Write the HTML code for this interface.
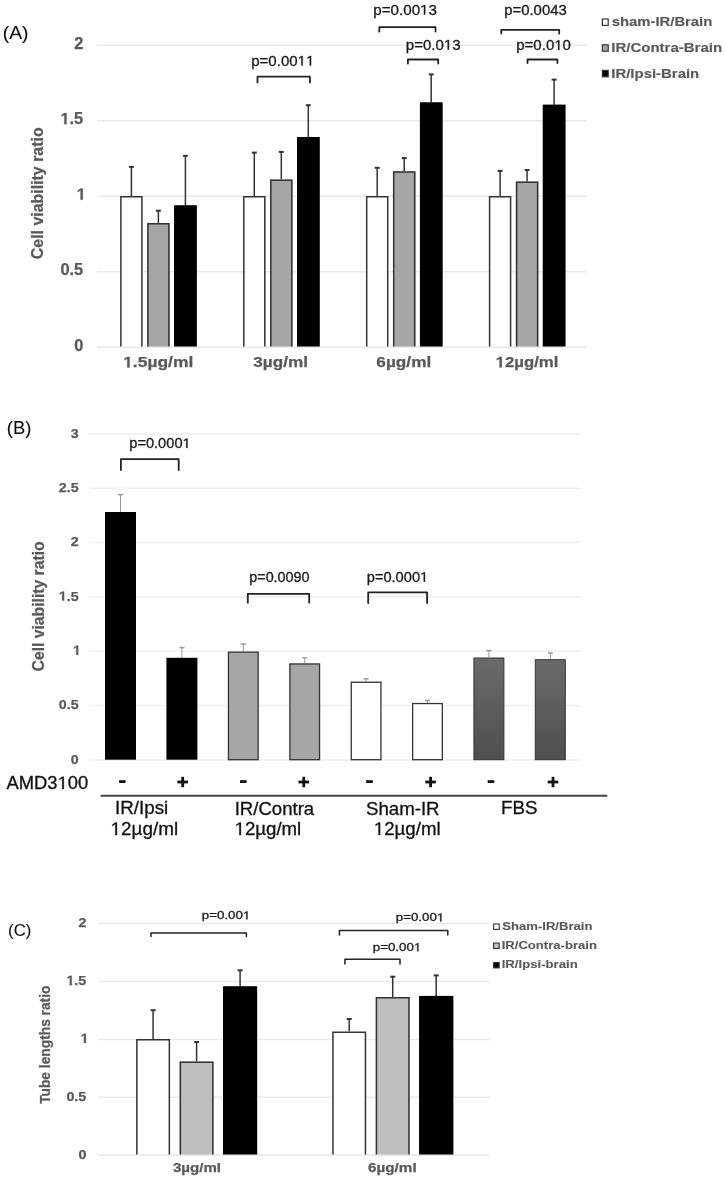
<!DOCTYPE html>
<html><head><meta charset="utf-8"><title>Figure</title>
<style>
html,body{margin:0;padding:0;background:#fff;}
body{width:726px;height:1181px;overflow:hidden;}
svg{display:block;font-family:"Liberation Sans", sans-serif;filter:blur(0.4px);}
</style></head>
<body>
<svg width="726" height="1181" viewBox="0 0 726 1181">
<rect width="726" height="1181" fill="#fff"/>
<text x="2.70" y="38.50" font-size="18.5" textLength="25.80" lengthAdjust="spacingAndGlyphs" fill="#111" stroke="#111" stroke-width="0.1">(A)</text>
<line x1="97" y1="45.2" x2="587" y2="45.2" stroke="#e9e9e9" stroke-width="1.5"/>
<line x1="97" y1="120.7" x2="587" y2="120.7" stroke="#e9e9e9" stroke-width="1.5"/>
<line x1="97" y1="196.2" x2="587" y2="196.2" stroke="#e9e9e9" stroke-width="1.5"/>
<line x1="97" y1="271.7" x2="587" y2="271.7" stroke="#e9e9e9" stroke-width="1.5"/>
<line x1="97" y1="347.2" x2="587" y2="347.2" stroke="#e9e9e9" stroke-width="1.5"/>
<text x="74.34" y="48.80" font-size="16.4" textLength="9.12" lengthAdjust="spacingAndGlyphs" fill="#595959" font-weight="bold" stroke="#595959" stroke-width="0.25">2</text>
<text x="60.46" y="124.30" font-size="16.4" textLength="22.80" lengthAdjust="spacingAndGlyphs" fill="#595959" font-weight="bold" stroke="#595959" stroke-width="0.25"> .5</text>
<path transform="translate(60.46 124.30) scale(0.00801 -0.00801)" d="M478 0V1170L140 959V1180L493 1409H759V0Z" fill="#595959" stroke="#595959" stroke-width="31.2"/>
<text x="76.72" y="199.80" font-size="16.4" textLength="9.12" lengthAdjust="spacingAndGlyphs" fill="#595959" font-weight="bold" stroke="#595959" stroke-width="0.25"> </text>
<path transform="translate(76.72 199.80) scale(0.00801 -0.00801)" d="M478 0V1170L140 959V1180L493 1409H759V0Z" fill="#595959" stroke="#595959" stroke-width="31.2"/>
<text x="60.46" y="275.30" font-size="16.4" textLength="22.80" lengthAdjust="spacingAndGlyphs" fill="#595959" font-weight="bold" stroke="#595959" stroke-width="0.25">0.5</text>
<text x="74.35" y="350.80" font-size="16.4" textLength="9.12" lengthAdjust="spacingAndGlyphs" fill="#595959" font-weight="bold" stroke="#595959" stroke-width="0.25">0</text>
<text transform="rotate(-90)" x="-259.15" y="43.00" font-size="16.4" textLength="131.77" lengthAdjust="spacingAndGlyphs" fill="#595959" font-weight="bold" stroke="#595959" stroke-width="0.25">Cell viability ratio</text>
<line x1="131.4" y1="196" x2="131.4" y2="166.9" stroke="#333" stroke-width="1.5"/>
<line x1="128.9" y1="166.9" x2="133.9" y2="166.9" stroke="#333" stroke-width="2.0"/>
<rect x="120.15" y="196.00" width="22.50" height="151.00" fill="#ffffff"/>
<path d="M120.90 347 V196.75 H141.90 V347" fill="none" stroke="#333" stroke-width="1.5"/>
<line x1="158.4" y1="222.9" x2="158.4" y2="210.7" stroke="#333" stroke-width="1.5"/>
<line x1="155.9" y1="210.7" x2="160.9" y2="210.7" stroke="#333" stroke-width="2.0"/>
<rect x="147.15" y="222.90" width="22.50" height="124.10" fill="#a6a6a6"/>
<path d="M147.90 347 V223.65 H168.90 V347" fill="none" stroke="#333" stroke-width="1.5"/>
<line x1="185.4" y1="205.4" x2="185.4" y2="155.8" stroke="#333" stroke-width="1.5"/>
<line x1="182.9" y1="155.8" x2="187.9" y2="155.8" stroke="#333" stroke-width="2.0"/>
<rect x="174.15" y="205.40" width="22.50" height="141.60" fill="#000000"/>
<path d="M174.90 347 V206.15 H195.90 V347" fill="none" stroke="#000" stroke-width="1.5"/>
<line x1="254.3" y1="196" x2="254.3" y2="152.6" stroke="#333" stroke-width="1.5"/>
<line x1="251.8" y1="152.6" x2="256.8" y2="152.6" stroke="#333" stroke-width="2.0"/>
<rect x="243.05" y="196.00" width="22.50" height="151.00" fill="#ffffff"/>
<path d="M243.80 347 V196.75 H264.80 V347" fill="none" stroke="#333" stroke-width="1.5"/>
<line x1="281.3" y1="179.5" x2="281.3" y2="151.9" stroke="#333" stroke-width="1.5"/>
<line x1="278.8" y1="151.9" x2="283.8" y2="151.9" stroke="#333" stroke-width="2.0"/>
<rect x="270.05" y="179.50" width="22.50" height="167.50" fill="#a6a6a6"/>
<path d="M270.80 347 V180.25 H291.80 V347" fill="none" stroke="#333" stroke-width="1.5"/>
<line x1="308.3" y1="137.1" x2="308.3" y2="105.2" stroke="#333" stroke-width="1.5"/>
<line x1="305.8" y1="105.2" x2="310.8" y2="105.2" stroke="#333" stroke-width="2.0"/>
<rect x="297.05" y="137.10" width="22.50" height="209.90" fill="#000000"/>
<path d="M297.80 347 V137.85 H318.80 V347" fill="none" stroke="#000" stroke-width="1.5"/>
<line x1="377.2" y1="196" x2="377.2" y2="167.8" stroke="#333" stroke-width="1.5"/>
<line x1="374.7" y1="167.8" x2="379.7" y2="167.8" stroke="#333" stroke-width="2.0"/>
<rect x="365.95" y="196.00" width="22.50" height="151.00" fill="#ffffff"/>
<path d="M366.70 347 V196.75 H387.70 V347" fill="none" stroke="#333" stroke-width="1.5"/>
<line x1="404.2" y1="171.3" x2="404.2" y2="158.1" stroke="#333" stroke-width="1.5"/>
<line x1="401.7" y1="158.1" x2="406.7" y2="158.1" stroke="#333" stroke-width="2.0"/>
<rect x="392.95" y="171.30" width="22.50" height="175.70" fill="#a6a6a6"/>
<path d="M393.70 347 V172.05 H414.70 V347" fill="none" stroke="#333" stroke-width="1.5"/>
<line x1="431.2" y1="102.5" x2="431.2" y2="74.4" stroke="#333" stroke-width="1.5"/>
<line x1="428.7" y1="74.4" x2="433.7" y2="74.4" stroke="#333" stroke-width="2.0"/>
<rect x="419.95" y="102.50" width="22.50" height="244.50" fill="#000000"/>
<path d="M420.70 347 V103.25 H441.70 V347" fill="none" stroke="#000" stroke-width="1.5"/>
<line x1="500.1" y1="196" x2="500.1" y2="170.9" stroke="#333" stroke-width="1.5"/>
<line x1="497.6" y1="170.9" x2="502.6" y2="170.9" stroke="#333" stroke-width="2.0"/>
<rect x="488.85" y="196.00" width="22.50" height="151.00" fill="#ffffff"/>
<path d="M489.60 347 V196.75 H510.60 V347" fill="none" stroke="#333" stroke-width="1.5"/>
<line x1="527.1" y1="181.5" x2="527.1" y2="170" stroke="#333" stroke-width="1.5"/>
<line x1="524.6" y1="170" x2="529.6" y2="170" stroke="#333" stroke-width="2.0"/>
<rect x="515.85" y="181.50" width="22.50" height="165.50" fill="#a6a6a6"/>
<path d="M516.60 347 V182.25 H537.60 V347" fill="none" stroke="#333" stroke-width="1.5"/>
<line x1="554.1" y1="104.8" x2="554.1" y2="79.6" stroke="#333" stroke-width="1.5"/>
<line x1="551.6" y1="79.6" x2="556.6" y2="79.6" stroke="#333" stroke-width="2.0"/>
<rect x="542.85" y="104.80" width="22.50" height="242.20" fill="#000000"/>
<path d="M543.60 347 V105.55 H564.60 V347" fill="none" stroke="#000" stroke-width="1.5"/>
<line x1="97" y1="347.2" x2="587" y2="347.2" stroke="#e9e9e9" stroke-width="1.5"/>
<path d="M257.5 82.4 V76.7 H309.9 V82.4" fill="none" stroke="#222" stroke-width="1.8" stroke-linejoin="round" stroke-linecap="round"/>
<path d="M379.3 31.6 V27.2 H435.5 V31.6" fill="none" stroke="#222" stroke-width="1.8" stroke-linejoin="round" stroke-linecap="round"/>
<path d="M407.9 63.6 V59.5 H438.2 V63.6" fill="none" stroke="#222" stroke-width="1.8" stroke-linejoin="round" stroke-linecap="round"/>
<path d="M501.3 33.5 V29.8 H559.2 V33.5" fill="none" stroke="#222" stroke-width="1.8" stroke-linejoin="round" stroke-linecap="round"/>
<path d="M527.5 63 V59.5 H557.4 V63" fill="none" stroke="#222" stroke-width="1.8" stroke-linejoin="round" stroke-linecap="round"/>
<text x="251.23" y="65.60" font-size="14.0" textLength="63.12" lengthAdjust="spacingAndGlyphs" fill="#1a1a1a" stroke="#1a1a1a" stroke-width="0.3">p=0.00  </text>
<path transform="translate(297.63 65.60) scale(0.00734 -0.00684)" d="M515 0V1237L197 1010V1180L530 1409H696V0Z" fill="#1a1a1a" stroke="#1a1a1a" stroke-width="43.9"/>
<path transform="translate(305.99 65.60) scale(0.00734 -0.00684)" d="M515 0V1237L197 1010V1180L530 1409H696V0Z" fill="#1a1a1a" stroke="#1a1a1a" stroke-width="43.9"/>
<text x="373.32" y="14.60" font-size="14.0" textLength="63.64" lengthAdjust="spacingAndGlyphs" fill="#1a1a1a" stroke="#1a1a1a" stroke-width="0.3">p=0.00 3</text>
<path transform="translate(420.11 14.60) scale(0.00740 -0.00684)" d="M515 0V1237L197 1010V1180L530 1409H696V0Z" fill="#1a1a1a" stroke="#1a1a1a" stroke-width="43.9"/>
<text x="405.83" y="49.60" font-size="14.0" textLength="54.73" lengthAdjust="spacingAndGlyphs" fill="#1a1a1a" stroke="#1a1a1a" stroke-width="0.3">p=0.0 3</text>
<path transform="translate(443.85 49.60) scale(0.00734 -0.00684)" d="M515 0V1237L197 1010V1180L530 1409H696V0Z" fill="#1a1a1a" stroke="#1a1a1a" stroke-width="43.9"/>
<text x="504.24" y="14.60" font-size="14.0" textLength="62.51" lengthAdjust="spacingAndGlyphs" fill="#1a1a1a" stroke="#1a1a1a" stroke-width="0.3">p=0.0043</text>
<text x="516.23" y="50.00" font-size="14.0" textLength="54.76" lengthAdjust="spacingAndGlyphs" fill="#1a1a1a" stroke="#1a1a1a" stroke-width="0.3">p=0.0 0</text>
<path transform="translate(554.27 50.00) scale(0.00734 -0.00684)" d="M515 0V1237L197 1010V1180L530 1409H696V0Z" fill="#1a1a1a" stroke="#1a1a1a" stroke-width="43.9"/>
<rect x="602.4" y="19.0" width="5.8" height="6.4" fill="#fff" stroke="#333" stroke-width="1.2"/>
<text x="611.78" y="26.30" font-size="13.2" textLength="100.54" lengthAdjust="spacingAndGlyphs" fill="#595959" font-weight="bold" stroke="#595959" stroke-width="0.15">sham-IR/Brain</text>
<rect x="602.4" y="44.8" width="5.8" height="6.4" fill="#a6a6a6" stroke="#333" stroke-width="1.2"/>
<text x="611.30" y="52.10" font-size="13.2" textLength="110.83" lengthAdjust="spacingAndGlyphs" fill="#595959" font-weight="bold" stroke="#595959" stroke-width="0.15">IR/Contra-Brain</text>
<rect x="602.4" y="70.4" width="5.8" height="6.4" fill="#000" stroke="#333" stroke-width="1.2"/>
<text x="611.30" y="77.70" font-size="13.2" textLength="87.92" lengthAdjust="spacingAndGlyphs" fill="#595959" font-weight="bold" stroke="#595959" stroke-width="0.15">IR/Ipsi-Brain</text>
<text x="123.16" y="367.40" font-size="15.2" textLength="70.13" lengthAdjust="spacingAndGlyphs" fill="#595959" font-weight="bold" stroke="#595959" stroke-width="0.25"> .5µg/ml</text>
<path transform="translate(123.16 367.40) scale(0.00851 -0.00742)" d="M478 0V1170L140 959V1180L493 1409H759V0Z" fill="#595959" stroke="#595959" stroke-width="33.7"/>
<text x="253.31" y="367.40" font-size="15.2" textLength="54.61" lengthAdjust="spacingAndGlyphs" fill="#595959" font-weight="bold" stroke="#595959" stroke-width="0.25">3µg/ml</text>
<text x="376.37" y="367.40" font-size="15.2" textLength="54.85" lengthAdjust="spacingAndGlyphs" fill="#595959" font-weight="bold" stroke="#595959" stroke-width="0.25">6µg/ml</text>
<text x="495.60" y="367.40" font-size="15.2" textLength="62.84" lengthAdjust="spacingAndGlyphs" fill="#595959" font-weight="bold" stroke="#595959" stroke-width="0.25"> 2µg/ml</text>
<path transform="translate(495.60 367.40) scale(0.00819 -0.00742)" d="M478 0V1170L140 959V1180L493 1409H759V0Z" fill="#595959" stroke="#595959" stroke-width="33.7"/>
<text x="6.86" y="434.00" font-size="17.5" textLength="24.59" lengthAdjust="spacingAndGlyphs" fill="#111" stroke="#111" stroke-width="0.1">(B)</text>
<line x1="89" y1="433.9" x2="581" y2="433.9" stroke="#efefef" stroke-width="1.5"/>
<line x1="89" y1="488.2" x2="581" y2="488.2" stroke="#efefef" stroke-width="1.5"/>
<line x1="89" y1="542.6" x2="581" y2="542.6" stroke="#efefef" stroke-width="1.5"/>
<line x1="89" y1="596.9000000000001" x2="581" y2="596.9000000000001" stroke="#efefef" stroke-width="1.5"/>
<line x1="89" y1="651.2" x2="581" y2="651.2" stroke="#efefef" stroke-width="1.5"/>
<line x1="89" y1="705.6" x2="581" y2="705.6" stroke="#efefef" stroke-width="1.5"/>
<line x1="89" y1="759.9000000000001" x2="581" y2="759.9000000000001" stroke="#efefef" stroke-width="1.5"/>
<text x="70.80" y="437.60" font-size="13.3" textLength="7.91" lengthAdjust="spacingAndGlyphs" fill="#595959" font-weight="bold" stroke="#595959" stroke-width="0.25">3</text>
<text x="58.81" y="491.90" font-size="13.3" textLength="19.78" lengthAdjust="spacingAndGlyphs" fill="#595959" font-weight="bold" stroke="#595959" stroke-width="0.25">2.5</text>
<text x="70.86" y="546.30" font-size="13.3" textLength="7.91" lengthAdjust="spacingAndGlyphs" fill="#595959" font-weight="bold" stroke="#595959" stroke-width="0.25">2</text>
<text x="58.81" y="600.60" font-size="13.3" textLength="19.78" lengthAdjust="spacingAndGlyphs" fill="#595959" font-weight="bold" stroke="#595959" stroke-width="0.25"> .5</text>
<path transform="translate(58.81 600.60) scale(0.00695 -0.00649)" d="M478 0V1170L140 959V1180L493 1409H759V0Z" fill="#595959" stroke="#595959" stroke-width="38.5"/>
<text x="72.93" y="654.90" font-size="13.3" textLength="7.91" lengthAdjust="spacingAndGlyphs" fill="#595959" font-weight="bold" stroke="#595959" stroke-width="0.25"> </text>
<path transform="translate(72.93 654.90) scale(0.00695 -0.00649)" d="M478 0V1170L140 959V1180L493 1409H759V0Z" fill="#595959" stroke="#595959" stroke-width="38.5"/>
<text x="58.81" y="709.30" font-size="13.3" textLength="19.78" lengthAdjust="spacingAndGlyphs" fill="#595959" font-weight="bold" stroke="#595959" stroke-width="0.25">0.5</text>
<text x="70.87" y="763.60" font-size="13.3" textLength="7.91" lengthAdjust="spacingAndGlyphs" fill="#595959" font-weight="bold" stroke="#595959" stroke-width="0.25">0</text>
<text transform="rotate(-90)" x="-671.44" y="43.60" font-size="16.2" textLength="130.06" lengthAdjust="spacingAndGlyphs" fill="#595959" font-weight="bold" stroke="#595959" stroke-width="0.25">Cell viability ratio</text>
<defs><linearGradient id="dg" x1="0" y1="0" x2="0" y2="1"><stop offset="0" stop-color="#6b6b6b"/><stop offset="1" stop-color="#4e4e4e"/></linearGradient></defs>
<line x1="120.5" y1="512" x2="120.5" y2="494.6" stroke="#999" stroke-width="1"/>
<line x1="118.0" y1="494.6" x2="123.0" y2="494.6" stroke="#999" stroke-width="1.5"/>
<rect x="105.00" y="512.00" width="31.00" height="247.70" fill="#000"/>
<line x1="181.9" y1="657.8" x2="181.9" y2="647.6" stroke="#999" stroke-width="1"/>
<line x1="179.4" y1="647.6" x2="184.4" y2="647.6" stroke="#999" stroke-width="1.5"/>
<rect x="166.40" y="657.80" width="31.00" height="101.90" fill="#000"/>
<line x1="243.3" y1="651.5" x2="243.3" y2="644" stroke="#999" stroke-width="1"/>
<line x1="240.8" y1="644" x2="245.8" y2="644" stroke="#999" stroke-width="1.5"/>
<rect x="228.45" y="652.15" width="29.70" height="107.55" fill="#a6a6a6" stroke="#333" stroke-width="1.3"/>
<line x1="304.7" y1="663.3" x2="304.7" y2="657.8" stroke="#999" stroke-width="1"/>
<line x1="302.2" y1="657.8" x2="307.2" y2="657.8" stroke="#999" stroke-width="1.5"/>
<rect x="289.85" y="663.95" width="29.70" height="95.75" fill="#a6a6a6" stroke="#333" stroke-width="1.3"/>
<line x1="366.1" y1="681.6" x2="366.1" y2="678.8" stroke="#999" stroke-width="1"/>
<line x1="363.6" y1="678.8" x2="368.6" y2="678.8" stroke="#999" stroke-width="1.5"/>
<rect x="351.25" y="682.25" width="29.70" height="77.45" fill="#fff" stroke="#333" stroke-width="1.3"/>
<line x1="427.5" y1="702.9" x2="427.5" y2="700.5" stroke="#999" stroke-width="1"/>
<line x1="425.0" y1="700.5" x2="430.0" y2="700.5" stroke="#999" stroke-width="1.5"/>
<rect x="412.65" y="703.55" width="29.70" height="56.15" fill="#fff" stroke="#333" stroke-width="1.3"/>
<line x1="488.9" y1="657.5" x2="488.9" y2="650.6" stroke="#999" stroke-width="1"/>
<line x1="486.4" y1="650.6" x2="491.4" y2="650.6" stroke="#999" stroke-width="1.5"/>
<rect x="473.90" y="658.00" width="30.00" height="101.70" fill="url(#dg)" stroke="#333" stroke-width="1.0"/>
<line x1="550.3" y1="659.2" x2="550.3" y2="653" stroke="#999" stroke-width="1"/>
<line x1="547.8" y1="653" x2="552.8" y2="653" stroke="#999" stroke-width="1.5"/>
<rect x="535.30" y="659.70" width="30.00" height="100.00" fill="url(#dg)" stroke="#333" stroke-width="1.0"/>
<path d="M120.9 470.1 V459.2 H178.7 V470.1" fill="none" stroke="#222" stroke-width="1.8" stroke-linejoin="round" stroke-linecap="round"/>
<path d="M247.8 602.7 V593.9 H309.2 V602.7" fill="none" stroke="#222" stroke-width="1.8" stroke-linejoin="round" stroke-linecap="round"/>
<path d="M368.2 603 V592.3 H427.1 V603" fill="none" stroke="#222" stroke-width="1.8" stroke-linejoin="round" stroke-linecap="round"/>
<text x="129.26" y="448.00" font-size="13.8" textLength="61.41" lengthAdjust="spacingAndGlyphs" fill="#1a1a1a" stroke="#1a1a1a" stroke-width="0.3">p=0.000 </text>
<path transform="translate(182.53 448.00) scale(0.00714 -0.00674)" d="M515 0V1237L197 1010V1180L530 1409H696V0Z" fill="#1a1a1a" stroke="#1a1a1a" stroke-width="44.5"/>
<text x="249.27" y="582.20" font-size="13.8" textLength="60.29" lengthAdjust="spacingAndGlyphs" fill="#1a1a1a" stroke="#1a1a1a" stroke-width="0.3">p=0.0090</text>
<text x="366.76" y="581.70" font-size="13.8" textLength="61.41" lengthAdjust="spacingAndGlyphs" fill="#1a1a1a" stroke="#1a1a1a" stroke-width="0.3">p=0.000 </text>
<path transform="translate(420.03 581.70) scale(0.00714 -0.00674)" d="M515 0V1237L197 1010V1180L530 1409H696V0Z" fill="#1a1a1a" stroke="#1a1a1a" stroke-width="44.5"/>
<text x="6.56" y="788.90" font-size="17.8" textLength="81.65" lengthAdjust="spacingAndGlyphs" fill="#111" stroke="#111" stroke-width="0.3">AMD3 00</text>
<path transform="translate(57.58 788.90) scale(0.00897 -0.00869)" d="M515 0V1237L197 1010V1180L530 1409H696V0Z" fill="#111" stroke="#111" stroke-width="34.5"/>
<rect x="119.0" y="780.2" width="6.6" height="2.8" fill="#111"/>
<rect x="240.0" y="780.2" width="6.6" height="2.8" fill="#111"/>
<rect x="366.2" y="780.2" width="6.6" height="2.8" fill="#111"/>
<rect x="487.7" y="780.2" width="6.6" height="2.8" fill="#111"/>
<rect x="177.4" y="780.6" width="10.6" height="2.8" fill="#111"/>
<rect x="181.3" y="776.8" width="2.8" height="10.4" fill="#111"/>
<rect x="298.5" y="780.6" width="10.6" height="2.8" fill="#111"/>
<rect x="302.4" y="776.8" width="2.8" height="10.4" fill="#111"/>
<rect x="425.3" y="780.6" width="10.6" height="2.8" fill="#111"/>
<rect x="429.2" y="776.8" width="2.8" height="10.4" fill="#111"/>
<rect x="547.7" y="780.6" width="10.6" height="2.8" fill="#111"/>
<rect x="551.6" y="776.8" width="2.8" height="10.4" fill="#111"/>
<line x1="100.6" y1="795.7" x2="607.3" y2="795.7" stroke="#444" stroke-width="2"/>
<text x="115.07" y="814.40" font-size="18.2" textLength="53.20" lengthAdjust="spacingAndGlyphs" fill="#111" stroke="#111" stroke-width="0.3">IR/Ipsi</text>
<text x="110.58" y="835.10" font-size="18.2" textLength="67.58" lengthAdjust="spacingAndGlyphs" fill="#111" stroke="#111" stroke-width="0.3"> 2µg/ml</text>
<path transform="translate(110.58 835.10) scale(0.00922 -0.00889)" d="M515 0V1237L197 1010V1180L530 1409H696V0Z" fill="#111" stroke="#111" stroke-width="33.8"/>
<text x="234.69" y="814.50" font-size="18.2" textLength="79.51" lengthAdjust="spacingAndGlyphs" fill="#111" stroke="#111" stroke-width="0.3">IR/Contra</text>
<text x="234.61" y="835.10" font-size="18.2" textLength="66.64" lengthAdjust="spacingAndGlyphs" fill="#111" stroke="#111" stroke-width="0.3"> 2µg/ml</text>
<path transform="translate(234.61 835.10) scale(0.00909 -0.00889)" d="M515 0V1237L197 1010V1180L530 1409H696V0Z" fill="#111" stroke="#111" stroke-width="33.8"/>
<text x="365.95" y="814.60" font-size="18.2" textLength="73.61" lengthAdjust="spacingAndGlyphs" fill="#111" stroke="#111" stroke-width="0.3">Sham-IR</text>
<text x="373.80" y="835.10" font-size="18.2" textLength="66.85" lengthAdjust="spacingAndGlyphs" fill="#111" stroke="#111" stroke-width="0.3"> 2µg/ml</text>
<path transform="translate(373.80 835.10) scale(0.00912 -0.00889)" d="M515 0V1237L197 1010V1180L530 1409H696V0Z" fill="#111" stroke="#111" stroke-width="33.8"/>
<text x="501.06" y="814.30" font-size="18.2" textLength="36.50" lengthAdjust="spacingAndGlyphs" fill="#111" stroke="#111" stroke-width="0.3">FBS</text>
<text x="8.06" y="936.00" font-size="16.5" textLength="23.28" lengthAdjust="spacingAndGlyphs" fill="#111" stroke="#111" stroke-width="0.1">(C)</text>
<line x1="98.3" y1="923.4" x2="489.8" y2="923.4" stroke="#eaeaea" stroke-width="1.5"/>
<line x1="98.3" y1="981.6" x2="489.8" y2="981.6" stroke="#eaeaea" stroke-width="1.5"/>
<line x1="98.3" y1="1039.5" x2="489.8" y2="1039.5" stroke="#eaeaea" stroke-width="1.5"/>
<line x1="98.3" y1="1097.2" x2="489.8" y2="1097.2" stroke="#eaeaea" stroke-width="1.5"/>
<line x1="98.3" y1="1155.2" x2="489.8" y2="1155.2" stroke="#eaeaea" stroke-width="1.5"/>
<text x="78.53" y="927.00" font-size="13.6" textLength="7.94" lengthAdjust="spacingAndGlyphs" fill="#595959" font-weight="bold" stroke="#595959" stroke-width="0.25">2</text>
<text x="66.45" y="985.20" font-size="13.6" textLength="19.85" lengthAdjust="spacingAndGlyphs" fill="#595959" font-weight="bold" stroke="#595959" stroke-width="0.25"> .5</text>
<path transform="translate(66.45 985.20) scale(0.00697 -0.00664)" d="M478 0V1170L140 959V1180L493 1409H759V0Z" fill="#595959" stroke="#595959" stroke-width="37.6"/>
<text x="80.61" y="1043.10" font-size="13.6" textLength="7.94" lengthAdjust="spacingAndGlyphs" fill="#595959" font-weight="bold" stroke="#595959" stroke-width="0.25"> </text>
<path transform="translate(80.61 1043.10) scale(0.00697 -0.00664)" d="M478 0V1170L140 959V1180L493 1409H759V0Z" fill="#595959" stroke="#595959" stroke-width="37.6"/>
<text x="66.45" y="1100.80" font-size="13.6" textLength="19.85" lengthAdjust="spacingAndGlyphs" fill="#595959" font-weight="bold" stroke="#595959" stroke-width="0.25">0.5</text>
<text x="78.54" y="1158.80" font-size="13.6" textLength="7.94" lengthAdjust="spacingAndGlyphs" fill="#595959" font-weight="bold" stroke="#595959" stroke-width="0.25">0</text>
<text transform="rotate(-90)" x="-1103.85" y="49.70" font-size="14.8" textLength="118.29" lengthAdjust="spacingAndGlyphs" fill="#595959" font-weight="bold" stroke="#595959" stroke-width="0.25">Tube lengths ratio</text>
<line x1="153.1" y1="1039.1" x2="153.1" y2="1010.2" stroke="#333" stroke-width="1.5"/>
<line x1="150.6" y1="1010.2" x2="155.6" y2="1010.2" stroke="#333" stroke-width="2.0"/>
<rect x="136.10" y="1039.10" width="34.00" height="116.10" fill="#fff"/>
<path d="M136.85 1155.2 V1039.85 H169.35 V1155.2" fill="none" stroke="#333" stroke-width="1.5"/>
<line x1="196.6" y1="1061.4" x2="196.6" y2="1042" stroke="#333" stroke-width="1.5"/>
<line x1="194.1" y1="1042" x2="199.1" y2="1042" stroke="#333" stroke-width="2.0"/>
<rect x="179.60" y="1061.40" width="34.00" height="93.80" fill="#bfbfbf"/>
<path d="M180.35 1155.2 V1062.15 H212.85 V1155.2" fill="none" stroke="#333" stroke-width="1.5"/>
<line x1="240.1" y1="986.4" x2="240.1" y2="970.3" stroke="#333" stroke-width="1.5"/>
<line x1="237.6" y1="970.3" x2="242.6" y2="970.3" stroke="#333" stroke-width="2.0"/>
<rect x="223.10" y="986.40" width="34.00" height="168.80" fill="#000"/>
<path d="M223.85 1155.2 V987.15 H256.35 V1155.2" fill="none" stroke="#000" stroke-width="1.5"/>
<line x1="349.2" y1="1031.6" x2="349.2" y2="1019" stroke="#333" stroke-width="1.5"/>
<line x1="346.7" y1="1019" x2="351.7" y2="1019" stroke="#333" stroke-width="2.0"/>
<rect x="332.20" y="1031.60" width="34.00" height="123.60" fill="#fff"/>
<path d="M332.95 1155.2 V1032.35 H365.45 V1155.2" fill="none" stroke="#333" stroke-width="1.5"/>
<line x1="392.7" y1="997" x2="392.7" y2="976.7" stroke="#333" stroke-width="1.5"/>
<line x1="390.2" y1="976.7" x2="395.2" y2="976.7" stroke="#333" stroke-width="2.0"/>
<rect x="375.70" y="997.00" width="34.00" height="158.20" fill="#bfbfbf"/>
<path d="M376.45 1155.2 V997.75 H408.95 V1155.2" fill="none" stroke="#333" stroke-width="1.5"/>
<line x1="436.2" y1="995.9" x2="436.2" y2="975.4" stroke="#333" stroke-width="1.5"/>
<line x1="433.7" y1="975.4" x2="438.7" y2="975.4" stroke="#333" stroke-width="2.0"/>
<rect x="419.20" y="995.90" width="34.00" height="159.30" fill="#000"/>
<path d="M419.95 1155.2 V996.65 H452.45 V1155.2" fill="none" stroke="#000" stroke-width="1.5"/>
<line x1="98.3" y1="1155.2" x2="489.8" y2="1155.2" stroke="#eaeaea" stroke-width="1.5"/>
<path d="M151 936.6 V932.9 H246.4 V936.6" fill="none" stroke="#222" stroke-width="1.5" stroke-linejoin="round" stroke-linecap="round"/>
<path d="M339.4 935 V930.6 H447.8 V935" fill="none" stroke="#222" stroke-width="1.5" stroke-linejoin="round" stroke-linecap="round"/>
<path d="M344.9 964 V959.3 H400 V964" fill="none" stroke="#222" stroke-width="1.5" stroke-linejoin="round" stroke-linecap="round"/>
<text x="201.74" y="919.30" font-size="11.4" textLength="48.65" lengthAdjust="spacingAndGlyphs" fill="#1a1a1a" stroke="#1a1a1a" stroke-width="0.3">p=0.00 </text>
<path transform="translate(242.96 919.30) scale(0.00652 -0.00557)" d="M515 0V1237L197 1010V1180L530 1409H696V0Z" fill="#1a1a1a" stroke="#1a1a1a" stroke-width="53.9"/>
<text x="395.74" y="921.40" font-size="11.4" textLength="48.54" lengthAdjust="spacingAndGlyphs" fill="#1a1a1a" stroke="#1a1a1a" stroke-width="0.3">p=0.00 </text>
<path transform="translate(436.87 921.40) scale(0.00651 -0.00557)" d="M515 0V1237L197 1010V1180L530 1409H696V0Z" fill="#1a1a1a" stroke="#1a1a1a" stroke-width="53.9"/>
<text x="372.74" y="951.20" font-size="11.4" textLength="48.54" lengthAdjust="spacingAndGlyphs" fill="#1a1a1a" stroke="#1a1a1a" stroke-width="0.3">p=0.00 </text>
<path transform="translate(413.87 951.20) scale(0.00651 -0.00557)" d="M515 0V1237L197 1010V1180L530 1409H696V0Z" fill="#1a1a1a" stroke="#1a1a1a" stroke-width="53.9"/>
<rect x="493.6" y="924.0" width="5.6" height="5.4" fill="#fff" stroke="#333" stroke-width="1.1"/>
<text x="502.22" y="929.80" font-size="11.5" textLength="90.29" lengthAdjust="spacingAndGlyphs" fill="#595959" font-weight="bold" stroke="#595959" stroke-width="0.1">Sham-IR/Brain</text>
<rect x="493.6" y="943.1" width="5.6" height="5.4" fill="#bfbfbf" stroke="#333" stroke-width="1.1"/>
<text x="501.73" y="948.90" font-size="11.5" textLength="95.19" lengthAdjust="spacingAndGlyphs" fill="#595959" font-weight="bold" stroke="#595959" stroke-width="0.1">IR/Contra-brain</text>
<rect x="493.6" y="962.5" width="5.6" height="5.4" fill="#000" stroke="#333" stroke-width="1.1"/>
<text x="501.72" y="968.30" font-size="11.5" textLength="76.00" lengthAdjust="spacingAndGlyphs" fill="#595959" font-weight="bold" stroke="#595959" stroke-width="0.1">IR/Ipsi-brain</text>
<text x="172.95" y="1172.40" font-size="12.9" textLength="48.11" lengthAdjust="spacingAndGlyphs" fill="#595959" font-weight="bold" stroke="#595959" stroke-width="0.25">3µg/ml</text>
<text x="368.04" y="1172.20" font-size="12.9" textLength="48.64" lengthAdjust="spacingAndGlyphs" fill="#595959" font-weight="bold" stroke="#595959" stroke-width="0.25">6µg/ml</text>
</svg>
</body></html>
